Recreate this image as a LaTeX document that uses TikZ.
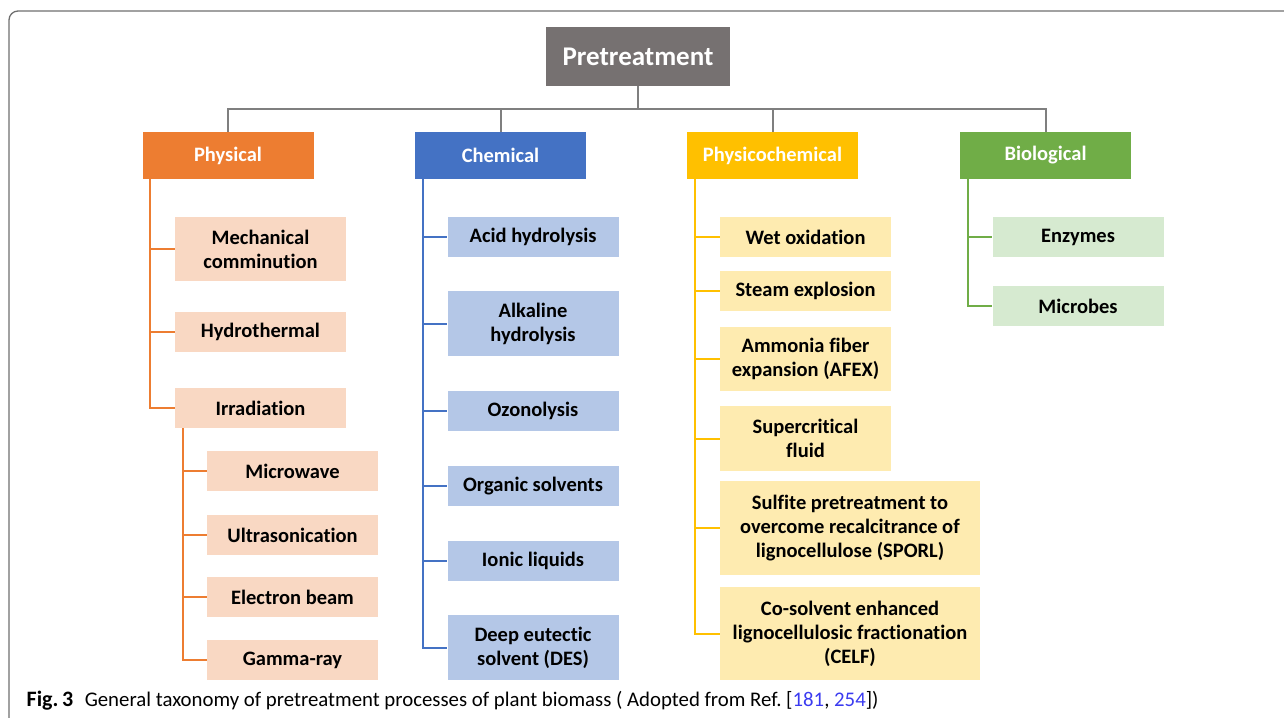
\documentclass[tikz,border=0pt]{standalone}
\usepackage{fontspec}
\setmainfont[Ligatures=NoCommon]{Carlito}
\usepackage{tikz}
\usetikzlibrary{positioning}
\frenchspacing
\definecolor{pregray}{HTML}{767171}
\definecolor{treegray}{HTML}{7F7F7F}
\definecolor{framegray}{HTML}{6E6E6E}
\definecolor{physorange}{HTML}{ED7D31}
\definecolor{chemblue}{HTML}{4472C4}
\definecolor{pchemgold}{HTML}{FFC000}
\definecolor{biogreen}{HTML}{70AD47}
\definecolor{physlight}{HTML}{F9D8C3}
\definecolor{chemlight}{HTML}{B4C7E7}
\definecolor{pchemlight}{HTML}{FEEBB0}
\definecolor{biolight}{HTML}{D6EAD0}
\definecolor{refblue}{HTML}{3B3BF0}
\tikzset{%
  catbox/.style={%
    fill=#1,
    text=white,
    font=\bfseries\fontsize{20.5}{24}\selectfont,
    minimum width=171pt,
    minimum height=47pt,
    inner sep=0pt
  },
  leafbox/.style={%
    fill=#1,
    font=\bfseries\fontsize{20.5}{24}\selectfont,
    align=center,
    minimum width=171pt,
    inner sep=0pt
  },
  link/.style={%
    draw=#1,
    line width=2pt
  }
}
\begin{document}
\begin{tikzpicture}[x=1pt,y=-1pt]
    \useasboundingbox (0,0) rectangle (1284,717);
    \draw[framegray,line width=1.3pt,rounded corners=9pt] (9,11) rectangle (1310,735);

    \node[fill=pregray,text=white,font=\bfseries\fontsize{27}{30}\selectfont,
      minimum width=184pt,minimum height=59pt,inner sep=0pt] (pre) at (638,56.5) {Pretreatment};

    \node[catbox=physorange] (phys) at (228,155.5) {Physical};
    \node[catbox=chemblue] (chem) at (500.5,155.5) {Chemical};
    \node[catbox=pchemgold] (pchem) at (772.5,155.5) {Physicochemical};
    \node[catbox=biogreen] (bio) at (1045.5,155.5) {Biological};

    \draw[link=treegray] (pre.south) -- ++(0,22.5) -| (phys.north);
    \draw[link=treegray] (pre.south) -- ++(0,22.5) -| (chem.north);
    \draw[link=treegray] (pre.south) -- ++(0,22.5) -| (pchem.north);
    \draw[link=treegray] (pre.south) -- ++(0,22.5) -| (bio.north);

    \node[leafbox=physlight,minimum height=64pt] (mech) at (260.5,249) {Mechanical\\comminution};
    \node[leafbox=physlight,minimum height=40pt] (hydro) at (260.5,332) {Hydrothermal};
    \node[leafbox=physlight,minimum height=40pt] (irr) at (260.5,408) {Irradiation};
    \node[leafbox=physlight,minimum height=40pt] (micro) at (292.5,471) {Microwave};
    \node[leafbox=physlight,minimum height=40pt] (ultra) at (292.5,535) {Ultrasonication};
    \node[leafbox=physlight,minimum height=40pt] (ebeam) at (292.5,597) {Electron beam};
    \node[leafbox=physlight,minimum height=40pt] (gamma) at (292.5,660) {Gamma-ray};

    \foreach \leaf in {mech,hydro,irr}
      \draw[link=physorange] ([xshift=8pt]phys.south west) |- (\leaf.west);
    \foreach \leaf in {micro,ultra,ebeam,gamma}
      \draw[link=physorange] ([xshift=8pt]irr.south west) |- (\leaf.west);

    \node[leafbox=chemlight,minimum height=40pt] (acid) at (533,237) {Acid hydrolysis};
    \node[leafbox=chemlight,minimum height=65pt] (alk) at (533,323.5) {Alkaline\\hydrolysis};
    \node[leafbox=chemlight,minimum height=40pt] (ozon) at (533,411) {Ozonolysis};
    \node[leafbox=chemlight,minimum height=40pt] (org) at (533,486) {Organic solvents};
    \node[leafbox=chemlight,minimum height=40pt] (ionic) at (533,561) {Ionic liquids};
    \node[leafbox=chemlight,minimum height=65pt] (des) at (533,647.5) {Deep eutectic\\solvent (DES)};

    \foreach \leaf in {acid,alk,ozon,org,ionic,des}
      \draw[link=chemblue] ([xshift=8pt]chem.south west) |- (\leaf.west);

    \node[leafbox=pchemlight,minimum height=40pt] (wet) at (805.5,237) {Wet oxidation};
    \node[leafbox=pchemlight,minimum height=40pt] (steam) at (805.5,291) {Steam explosion};
    \node[leafbox=pchemlight,minimum height=64pt] (afex) at (805.5,359) {Ammonia fiber\\expansion (AFEX)};
    \node[leafbox=pchemlight,minimum height=65pt] (scf) at (805.5,438.5) {Supercritical\\fluid};
    \node[leafbox=pchemlight,minimum width=260pt,minimum height=94pt] (sporl) at (850,528)
      {Sulfite pretreatment to\\overcome recalcitrance of\\lignocellulose (SPORL)};
    \node[leafbox=pchemlight,minimum width=260pt,minimum height=93pt] (celf) at (850,633.5)
      {Co-solvent enhanced\\lignocellulosic fractionation\\(CELF)};

    \foreach \leaf in {wet,steam,afex,scf,sporl,celf}
      \draw[link=pchemgold] ([xshift=8.5pt]pchem.south west) |- (\leaf.west);

    \node[leafbox=biolight,minimum height=40pt] (enz) at (1078,237) {Enzymes};
    \node[leafbox=biolight,minimum height=40pt] (mic) at (1078,306) {Microbes};

    \foreach \leaf in {enz,mic}
      \draw[link=biogreen] ([xshift=8.5pt]bio.south west) |- (\leaf.west);

    \node[anchor=base west,font=\fontsize{20.8}{24}\selectfont,inner sep=0pt] (cap) at (26.5,706)
      {\textbf{\fontsize{22}{24}\selectfont Fig.\,3}\hspace{0.55em}General taxonomy of pretreatment processes of plant biomass ( Adopted from Ref. [\textcolor{refblue}{181}, \textcolor{refblue}{254}])};
\end{tikzpicture}
\end{document}
